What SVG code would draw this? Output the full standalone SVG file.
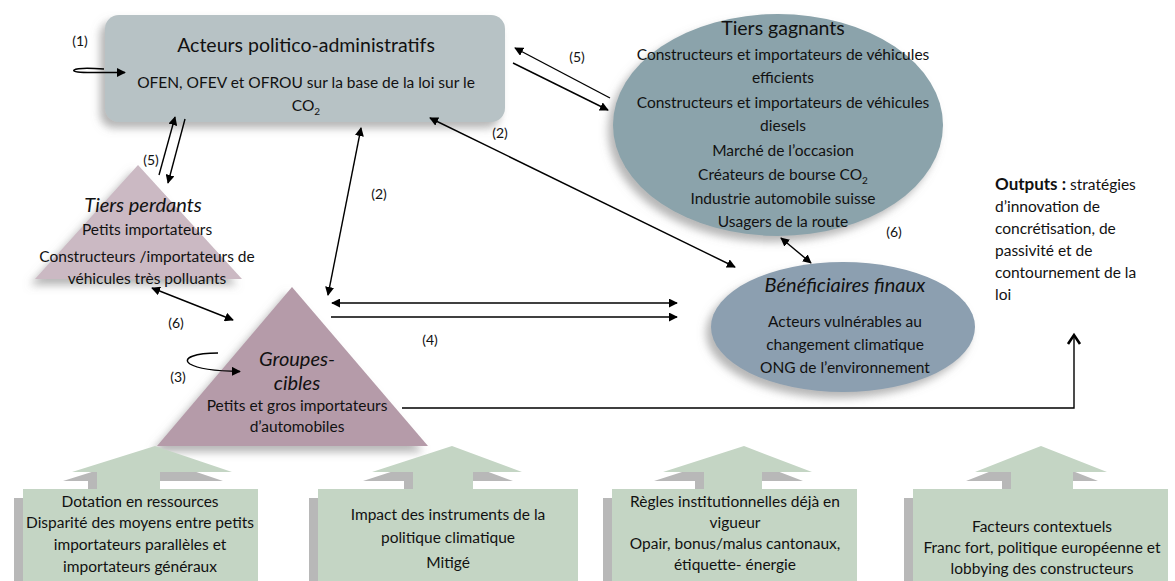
<svg xmlns="http://www.w3.org/2000/svg" width="1175" height="581" viewBox="0 0 1175 581">
<defs>
<filter id="sh" x="-20%" y="-20%" width="140%" height="150%">
<feDropShadow dx="-5" dy="6" stdDeviation="4" flood-color="#7a7a7a" flood-opacity="0.55"/>
</filter>
<marker id="ah" viewBox="0 0 10 10" refX="9" refY="5" markerWidth="9" markerHeight="9" markerUnits="userSpaceOnUse" orient="auto-start-reverse">
<path d="M0,0 L10,5 L0,10 z" fill="#000"/>
</marker>
</defs>
<style>
text{font-family:Lato,"Open Sans","Liberation Sans",sans-serif;fill:#111;text-anchor:middle}
.t{font-size:19.5px}
.b{font-size:15.5px}
.i{font-style:italic;font-size:20px}
.l{font-size:14px}
.c line,.c path{stroke:#000;stroke-width:1.4;fill:none}
.sd{fill:#b8b8b8}
.gr{fill:#c4d5c4}
</style>

<g id="acteurs">
<rect x="105" y="15" width="400" height="107" rx="14" fill="#b7c2c5" filter="url(#sh)"/>
<text class="t" x="306" y="52">Acteurs politico-administratifs</text>
<text class="b" x="306" y="88">OFEN, OFEV et OFROU sur la base de la loi sur le</text>
<text class="b" x="306" y="111">CO<tspan font-size="10" dy="4">2</tspan></text>
</g>

<g id="tiers-gagnants">
<ellipse cx="778" cy="125" rx="165" ry="111" fill="#8ba3ab" filter="url(#sh)"/>
<text class="t" x="783" y="35">Tiers gagnants</text>
<text class="b" x="783" y="60">Constructeurs et importateurs de véhicules</text>
<text class="b" x="783" y="83">efficients</text>
<text class="b" x="783" y="108">Constructeurs et importateurs de véhicules</text>
<text class="b" x="783" y="131">diesels</text>
<text class="b" x="783" y="156">Marché de l’occasion</text>
<text class="b" x="783" y="180">Créateurs de bourse CO<tspan font-size="10" dy="4">2</tspan></text>
<text class="b" x="783" y="204">Industrie automobile suisse</text>
<text class="b" x="783" y="227">Usagers de la route</text>
</g>

<g id="tiers-perdants">
<polygon points="138,165 35,279 242,279" fill="#cbb9c3" filter="url(#sh)"/>
<text class="i" x="143" y="212">Tiers perdants</text>
<text class="b" x="147" y="235">Petits importateurs</text>
<text class="b" x="147" y="262">Constructeurs /importateurs de</text>
<text class="b" x="147" y="284">véhicules très polluants</text>
</g>

<g id="groupes-cibles">
<polygon points="292,287 157,446 428,446" fill="#b59ba9" filter="url(#sh)"/>
<text class="i" x="297" y="366">Groupes-</text>
<text class="i" x="297" y="390">cibles</text>
<text class="b" x="297" y="411">Petits et gros importateurs</text>
<text class="b" x="297" y="432">d’automobiles</text>
</g>

<g id="beneficiaires">
<ellipse cx="843" cy="327" rx="132" ry="65" fill="#8c9fb0" filter="url(#sh)"/>
<text class="i" x="845" y="292">Bénéficiaires finaux</text>
<text class="b" x="845" y="327">Acteurs vulnérables au</text>
<text class="b" x="845" y="350">changement climatique</text>
<text class="b" x="845" y="373">ONG de l’environnement</text>
</g>

<g id="outputs">
<text x="995" y="190" style="text-anchor:start;font-size:15.5px"><tspan font-weight="bold" font-size="17">Outputs :</tspan> stratégies</text>
<text class="b" x="995" y="212" style="text-anchor:start">d’innovation de</text>
<text class="b" x="995" y="234" style="text-anchor:start">concrétisation, de</text>
<text class="b" x="995" y="256" style="text-anchor:start">passivité et de</text>
<text class="b" x="995" y="278" style="text-anchor:start">contournement de la</text>
<text class="b" x="995" y="300" style="text-anchor:start">loi</text>
</g>

<g id="dotation">
<path class="sd" d="M14,498 H249 V590 H14 Z M88,481 H151 V498 H88 Z M63,481 L146,455 L223,481 Z"/>
<path class="gr" d="M23,489 H258 V590 H23 Z M97,471 H160 V489 H97 Z M72,472 L155,446 L232,472 Z"/>
<text class="b" x="140" y="507">Dotation en ressources</text>
<text class="b" x="140" y="528">Disparité des moyens entre petits</text>
<text class="b" x="140" y="550">importateurs parallèles et</text>
<text class="b" x="140" y="572">importateurs généraux</text>
</g>

<g id="impact">
<path class="sd" d="M309,498 H569 V590 H309 Z M404,481 H464 V498 H404 Z M363,481 L443,455 L513,481 Z"/>
<path class="gr" d="M318,489 H578 V590 H318 Z M413,471 H473 V489 H413 Z M372,472 L452,446 L522,472 Z"/>
<text class="b" x="448" y="520">Impact des instruments de la</text>
<text class="b" x="448" y="543">politique climatique</text>
<text class="b" x="448" y="568">Mitigé</text>
</g>

<g id="regles">
<path class="sd" d="M603,498 H848 V590 H603 Z M695,481 H753 V498 H695 Z M654,481 L735,455 L803,481 Z"/>
<path class="gr" d="M612,489 H857 V590 H612 Z M704,471 H762 V489 H704 Z M663,472 L744,446 L812,472 Z"/>
<text class="b" x="735" y="507">Règles institutionnelles déjà en</text>
<text class="b" x="735" y="528">vigueur</text>
<text class="b" x="735" y="549">Opair, bonus/malus cantonaux,</text>
<text class="b" x="735" y="570">étiquette- énergie</text>
</g>

<g id="facteurs">
<path class="sd" d="M904,498 H1159 V590 H904 Z M1002,481 H1064 V498 H1002 Z M966,481 L1032,455 L1098,481 Z"/>
<path class="gr" d="M913,489 H1168 V590 H913 Z M1011,471 H1073 V489 H1011 Z M975,472 L1041,446 L1107,472 Z"/>
<text class="b" x="1042" y="532">Facteurs contextuels</text>
<text class="b" x="1042" y="553">Franc fort, politique européenne et</text>
<text class="b" x="1042" y="574">lobbying des constructeurs</text>
</g>

<g id="connectors" class="c">
<path d="M104,69 C90,68 77,68 74,70 C72,72 80,72.5 92,72.5 L125,72.5" marker-end="url(#ah)"/>
<line x1="515" y1="48" x2="610" y2="98" marker-start="url(#ah)"/>
<line x1="513" y1="63" x2="608" y2="110" marker-end="url(#ah)"/>
<line x1="159" y1="175" x2="175" y2="117" marker-end="url(#ah)"/>
<line x1="185" y1="119" x2="168" y2="183" marker-end="url(#ah)"/>
<line x1="361" y1="128" x2="328" y2="295" marker-start="url(#ah)" marker-end="url(#ah)"/>
<line x1="430" y1="118" x2="735" y2="267" marker-start="url(#ah)" marker-end="url(#ah)"/>
<line x1="332" y1="303" x2="677" y2="303" marker-start="url(#ah)" marker-end="url(#ah)"/>
<line x1="331" y1="317" x2="677" y2="317" marker-end="url(#ah)"/>
<line x1="152" y1="288" x2="233" y2="320" marker-start="url(#ah)" marker-end="url(#ah)"/>
<line x1="781" y1="238" x2="811" y2="263" marker-start="url(#ah)" marker-end="url(#ah)"/>
<path d="M218,353 C196,353 181,358 190,364 C198,369 215,371 240,371.5" marker-end="url(#ah)"/>
<path d="M402,408 H1074 V336"/>
<path d="M1068,344 L1074,335 L1080,344" style="stroke-width:2.6"/>
<text class="l" x="80" y="46">(1)</text>
<text class="l" x="577" y="62">(5)</text>
<text class="l" x="151" y="165">(5)</text>
<text class="l" x="379" y="199">(2)</text>
<text class="l" x="500" y="138">(2)</text>
<text class="l" x="430" y="345">(4)</text>
<text class="l" x="176" y="328">(6)</text>
<text class="l" x="894" y="237">(6)</text>
<text class="l" x="178" y="382">(3)</text>
</g>
</svg>
